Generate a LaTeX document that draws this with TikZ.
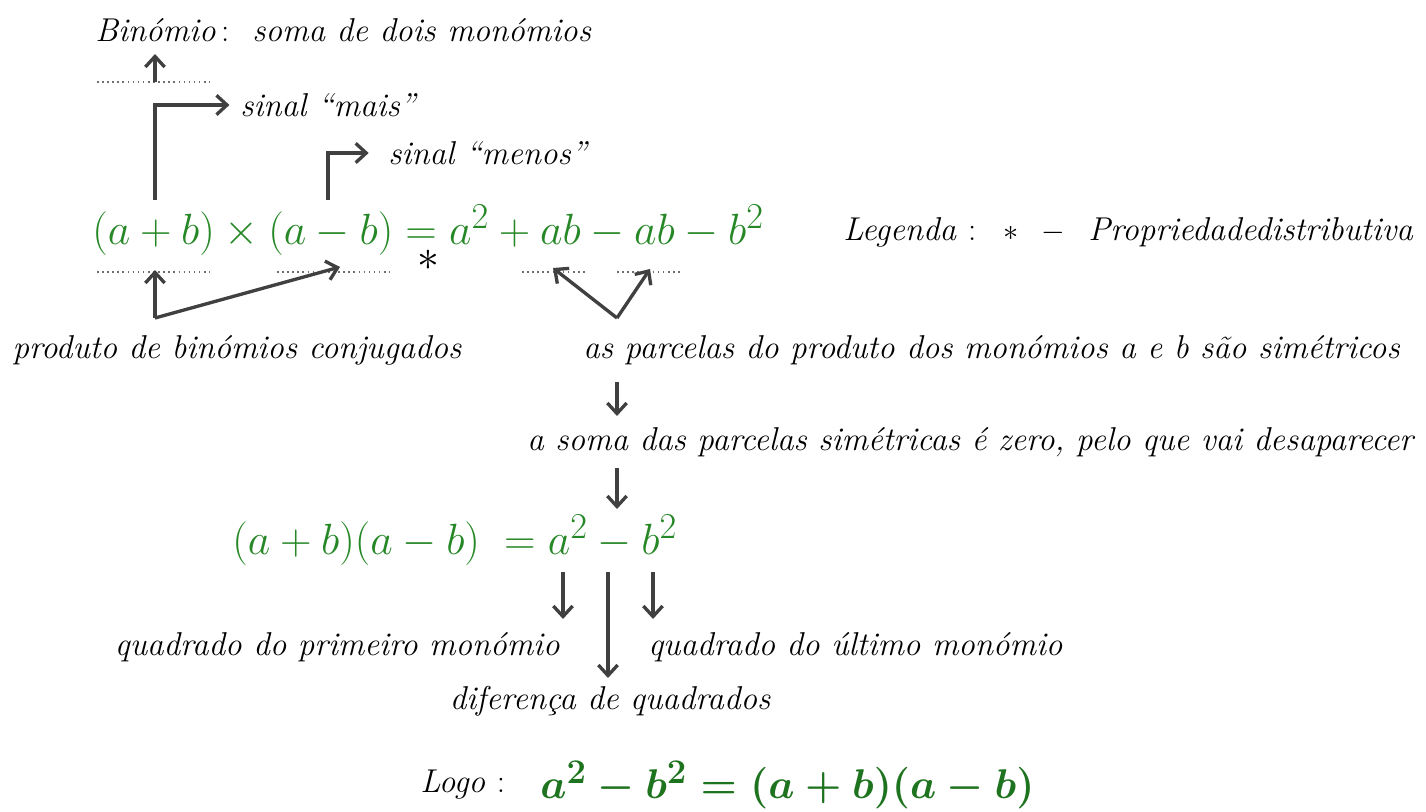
\documentclass[tikz,border=0pt]{standalone}
\usetikzlibrary{arrows.meta}
\definecolor{eqgreen}{RGB}{38,135,38}
\definecolor{eqdark}{RGB}{30,115,30}
\definecolor{arrowgray}{RGB}{64,64,64}
\definecolor{dotgray}{RGB}{110,110,110}

\begin{document}
\begin{tikzpicture}[
    x=0.02cm, y=-0.02cm,
    every node/.style={inner sep=0pt, font=\fontsize{18.8}{23}\selectfont\itshape},
    equation/.style={text=eqgreen, font=\Huge},
    boldeq/.style={text=eqdark, font=\Huge\boldmath},
    note/.style={anchor=west},
    arrow/.style={-{Straight Barb[length=6pt, width=11pt]}, line width=1.9pt, draw=arrowgray},
    dotline/.style={dotted, line width=0.9pt, draw=dotgray}
]
    \useasboundingbox (0,0) rectangle (1426,811);

% -------------------------
% Top labels
% -------------------------
    \node[note] (bin) at (95,30) {Binómio\,\textup{:}\ \ soma de dois monómios};
    \node[note] (mais) at (240,105) {sinal “mais”};
    \node[note] (menos) at (388,153) {sinal “menos”};

% -------------------------
% Main equation & legend
% -------------------------
    \node[equation, anchor=west] (eq1) at (92,230) {$(a+b)\times(a-b)=a^2+ab-ab-b^2$};
    \node[font=\Huge, text height=8pt, text depth=0pt] (ast) at (428,263) {$\ast$};
    \node[note] (legend) at (843,232) {Legenda \textup{:} \ $\ast$ \ $-$ \ Propriedadedistributiva};

% -------------------------
% Dotted marks
% -------------------------
    \draw[dotline] (97,82) -- (210,82);
    \draw[dotline] (97,272) -- (210,272);
    \draw[dotline] (277,272) -- (390,272);
    \draw[dotline] (522,272) -- (585,272);
    \draw[dotline] (617,272) -- (680,272);

    \coordinate (binTip) at (155,54);
    \coordinate (binDot) at (155,82);
    \coordinate (plusTop) at (155,200);
    \coordinate (minusTop) at (328,200);
    \coordinate (plusDot) at (155,270);
    \coordinate (minusDot) at (340,267);
    \coordinate (abDot) at (553,268);
    \coordinate (baDot) at (650,269);
    \coordinate (conjTop) at (155,318);
    \coordinate (symTop) at (617,318);

% -------------------------
% Lower labels
% -------------------------
    \node (conj) at (237,350) {produto de binómios conjugados};
    \node[note] (sym) at (583,350) {as parcelas do produto dos monómios a e b são simétricos};
    \node[note] (zero) at (527,442) {a soma das parcelas simétricas é zero, pelo que vai desaparecer};
    \node[equation, anchor=west] (eq2) at (232,540) {$(a+b)(a-b)\;=a^2-b^2$};
    \node[anchor=east] (first) at (560,647) {quadrado do primeiro monómio};
    \node[note] (last) at (648,647) {quadrado do último monómio};
    \node (diff) at (610,701) {diferença de quadrados};
    \node[note] (logo) at (420,785) {Logo \textup{:}};
    \node[boldeq, anchor=west] (eq3) at (540,785) {\scalebox{0.95}{$a^2-b^2=(a+b)(a-b)$}};

    \coordinate (symBot) at (617,382);
    \coordinate (zeroTop) at (617,416);
    \coordinate (zeroBot) at (617,468);
    \coordinate (eqTop) at (617,509);
    \coordinate (aSq) at (563,572);
    \coordinate (aSqTip) at (563,619);
    \coordinate (minusSq) at (608,572);
    \coordinate (minusSqTip) at (608,678);
    \coordinate (bSq) at (653,572);
    \coordinate (bSqTip) at (653,619);

% -------------------------
% Arrows
% -------------------------
    \draw[arrow] (binDot) -- (binTip);
    \draw[arrow] (plusTop) |- ([xshift=-6pt]mais.west);
    \draw[arrow] (minusTop) |- ([xshift=-11pt]menos.west);

    \draw[arrow] (conjTop) -- (plusDot);
    \draw[arrow] (conjTop) -- (minusDot);
    \draw[arrow] (symTop) -- (abDot);
    \draw[arrow] (symTop) -- (baDot);

    \draw[arrow] (symBot) -- (zeroTop);
    \draw[arrow] (zeroBot) -- (eqTop);

    \draw[arrow] (aSq) -- (aSqTip);
    \draw[arrow] (minusSq) -- (minusSqTip);
    \draw[arrow] (bSq) -- (bSqTip);
\end{tikzpicture}
\end{document}
